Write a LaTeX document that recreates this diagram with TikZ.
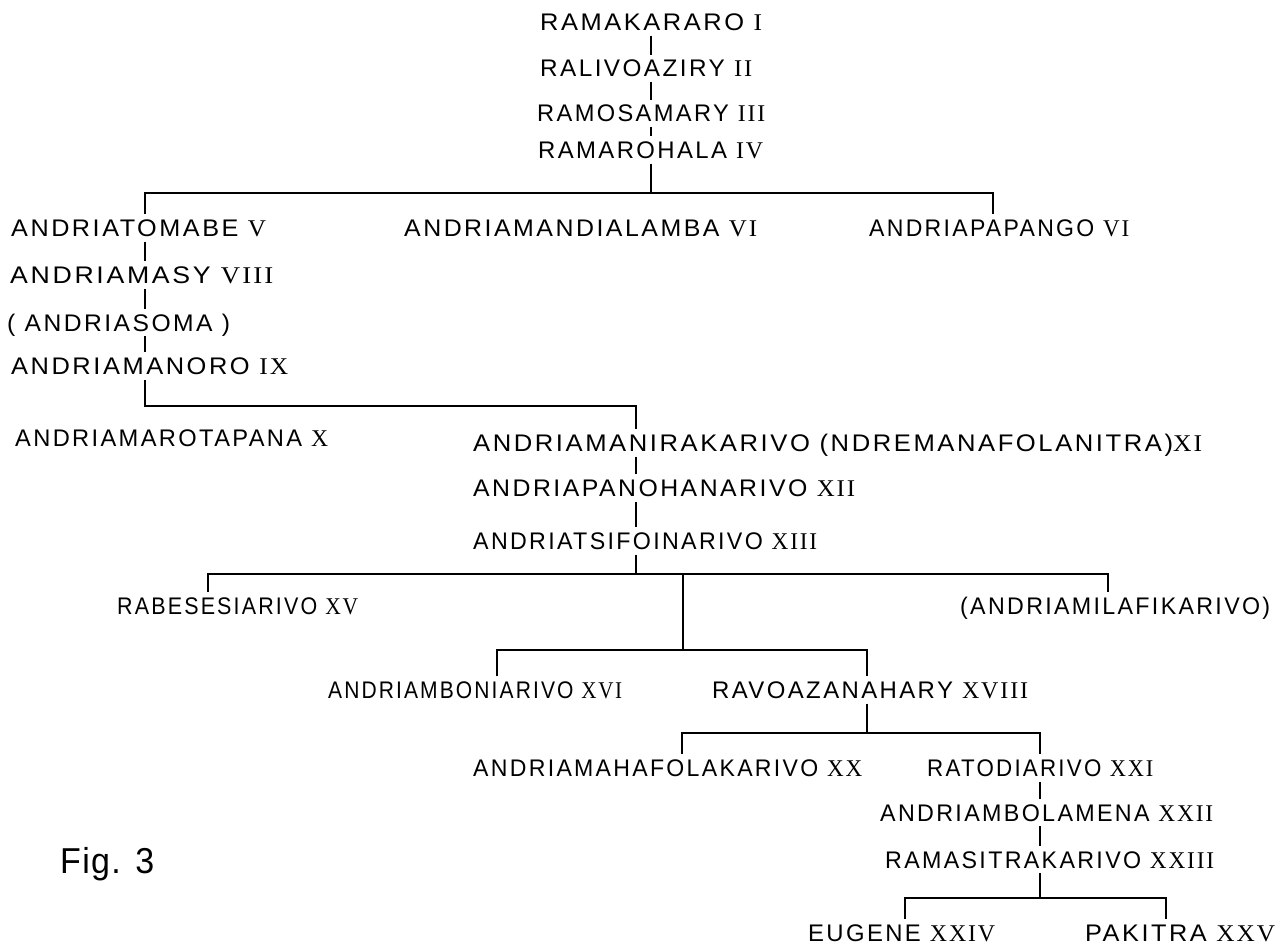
\documentclass[tikz,border=0pt]{standalone}
\usepackage{fontspec}
\usepackage{graphicx}
\setmainfont{Liberation Sans}[LetterSpace=10]
\newfontfamily\numfont{Liberation Serif}[LetterSpace=8]
\newfontfamily\figfont{Liberation Sans}[LetterSpace=4]
\newcommand{\rn}[1]{{\numfont #1}}
\newcommand{\fw}[2]{\resizebox{#1pt}{\height}{#2}}
\begin{document}
\begin{tikzpicture}[x=1pt,y=-1pt,
  person/.style={anchor=base west, inner xsep=0pt, inner ysep=5pt,
    text height=17pt, text depth=0pt, font=\fontsize{24}{26}\selectfont},
  link/.style={line width=1.4pt, line cap=butt}]
\fill[white] (0,0) rectangle (1287,949);
\useasboundingbox (0,0) rectangle (1287,949);

% nodes
\node[person] (n1) at (540,30.5) {\fw{222}{RAMAKARARO \rn{I}}};
\node[person] (n2) at (540,77) {\fw{212}{RALIVOAZIRY \rn{II}}};
\node[person] (n3) at (537,122) {\fw{228}{RAMOSAMARY \rn{III}}};
\node[person] (n4) at (538,158.5) {\fw{225}{RAMAROHALA \rn{IV}}};
\node[person] (n5) at (11,236.5) {\fw{255}{ANDRIATOMABE \rn{V}}};
\node[person] (n6) at (404,236.5) {\fw{353}{ANDRIAMANDIALAMBA \rn{VI}}};
\node[person] (n7) at (869,236.5) {\fw{260}{ANDRIAPAPANGO \rn{VI}}};
\node[person] (n8) at (10,283.5) {\fw{263}{ANDRIAMASY \rn{VIII}}};
\node[person] (n9) at (7,331) {\fw{223}{( ANDRIASOMA )}};
\node[person] (n10) at (11,374.5) {\fw{277}{ANDRIAMANORO \rn{IX}}};
\node[person] (n11) at (15,446) {\fw{313}{ANDRIAMAROTAPANA \rn{X}}};
\node[person] (n12) at (473,451.5) {\fw{729}{ANDRIAMANIRAKARIVO (NDREMANAFOLANITRA)\rn{XI}}};
\node[person] (n13) at (473,496.5) {\fw{382}{ANDRIAPANOHANARIVO \rn{XII}}};
\node[person] (n14) at (473,549.5) {\fw{344}{ANDRIATSIFOINARIVO \rn{XIII}}};
\node[person] (n15) at (117,614) {\fw{241}{RABESESIARIVO \rn{XV}}};
\node[person] (n16) at (960,614) {\fw{310}{(ANDRIAMILAFIKARIVO)}};
\node[person] (n17) at (328,698.5) {\fw{294}{ANDRIAMBONIARIVO \rn{XVI}}};
\node[person] (n18) at (712,698.5) {\fw{316}{RAVOAZANAHARY \rn{XVIII}}};
\node[person] (n19) at (473,776.5) {\fw{389}{ANDRIAMAHAFOLAKARIVO \rn{XX}}};
\node[person] (n20) at (927,776.5) {\fw{226}{RATODIARIVO \rn{XXI}}};
\node[person] (n21) at (880,821) {\fw{333}{ANDRIAMBOLAMENA \rn{XXII}}};
\node[person] (n22) at (885,868) {\fw{329}{RAMASITRAKARIVO \rn{XXIII}}};
\node[person] (n23) at (808,941) {\fw{187}{EUGENE \rn{XXIV}}};
\node[person] (n24) at (1085,941) {\fw{190}{PAKITRA \rn{XXV}}};
\node[anchor=base west, inner sep=0pt] (fig) at (60,873)
  {\fw{94}{\figfont\fontsize{36}{40}\selectfont Fig. 3}};

% junction coordinates
\coordinate (c1) at (651,193);
\coordinate (a1) at (145,193);
\coordinate (b1) at (993,193);
\coordinate (a2) at (145,406);
\coordinate (b2) at (636,406);
\coordinate (c3) at (636,574);
\coordinate (a3) at (208,574);
\coordinate (b3) at (1108,574);
\coordinate (m3) at (683,574);
\coordinate (m4) at (683,650);
\coordinate (a4) at (497,650);
\coordinate (b4) at (867,650);
\coordinate (c5) at (867,733);
\coordinate (a5) at (682,733);
\coordinate (b5) at (1040,733);
\coordinate (c6) at (1040,898);
\coordinate (a6) at (905,898);
\coordinate (b6) at (1166,898);

% connectors
\draw[link] (n1.south -| c1) -- (n2.north -| c1);
\draw[link] (n2.south -| c1) -- (n3.north -| c1);
\draw[link] (n3.south -| c1) -- (n4.north -| c1);
\draw[link] (n4.south -| c1) -- (c1);
\draw[link] (n5.north -| a1) -- (a1) -- (b1) -- (n7.north -| b1);
\draw[link] (n5.south -| a1) -- (n8.north -| a1);
\draw[link] (n8.south -| a1) -- (n9.north -| a1);
\draw[link] (n9.south -| a1) -- (n10.north -| a1);
\draw[link] (n10.south -| a2) -- (a2) -- (b2) -- (n12.north -| b2);
\draw[link] (n12.south -| b2) -- (n13.north -| b2);
\draw[link] (n13.south -| b2) -- (n14.north -| b2);
\draw[link] (n14.south -| c3) -- (c3);
\draw[link] (n15.north -| a3) -- (a3) -- (b3) -- (n16.north -| b3);
\draw[link] (m3) -- (m4);
\draw[link] (n17.north -| a4) -- (a4) -- (b4) -- (n18.north -| b4);
\draw[link] (n18.south -| c5) -- (c5);
\draw[link] (n19.north -| a5) -- (a5) -- (b5) -- (n20.north -| b5);
\draw[link] (n20.south -| b5) -- (n21.north -| b5);
\draw[link] (n21.south -| b5) -- (n22.north -| b5);
\draw[link] (n22.south -| c6) -- (c6);
\draw[link] (n23.north -| a6) -- (a6) -- (b6) -- (n24.north -| b6);
\end{tikzpicture}
\end{document}
